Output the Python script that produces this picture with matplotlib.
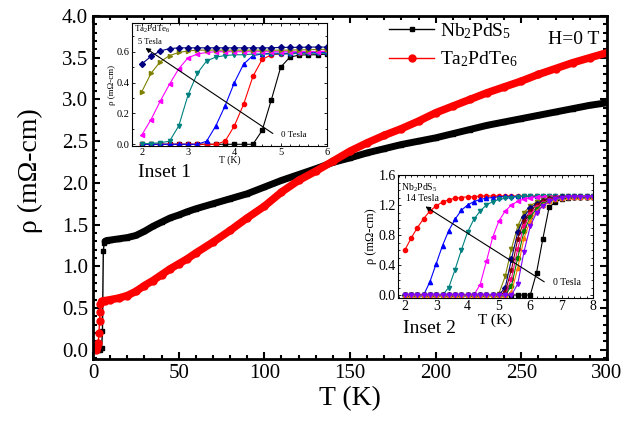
import numpy as np
import matplotlib
matplotlib.use('Agg')
import matplotlib.pyplot as plt
from matplotlib.ticker import MultipleLocator

plt.rcParams['font.family'] = ['Liberation Serif', 'DejaVu Serif']
plt.rcParams['mathtext.fontset'] = 'custom'
plt.rcParams['mathtext.rm'] = 'Liberation Serif'
plt.rcParams['mathtext.it'] = 'Liberation Serif:italic'

# ---- main panel: rho(T) at H=0 ----
T_nb = [2, 3, 4, 5, 5.5, 6, 6.5, 7, 8, 10, 15, 20, 25, 30, 35, 40, 45, 50, 55, 60,
        70, 80, 90, 100, 110, 120, 130, 140, 150, 160, 170, 180, 190, 200,
        210, 220, 230, 240, 250, 260, 270, 280, 290, 300]
rho_nb = [0.0, 0.0, 0.0, 0.02, 0.22, 1.18, 1.28, 1.30, 1.31, 1.315, 1.33, 1.345, 1.37, 1.42,
          1.48, 1.53, 1.58, 1.615, 1.655, 1.69, 1.75, 1.81, 1.87, 1.95, 2.03, 2.10, 2.17,
          2.245, 2.30, 2.36, 2.41, 2.46, 2.50, 2.54, 2.59, 2.64, 2.69, 2.73, 2.77, 2.81,
          2.85, 2.89, 2.93, 2.96]

T_ta = [2, 2.5, 3, 3.5, 3.8, 4, 4.3, 5, 7, 10, 15, 20, 25, 30, 35, 40, 45, 50, 55, 60,
        70, 80, 90, 100, 110, 120, 130, 140, 150, 160, 170, 180, 190, 200,
        210, 220, 230, 240, 250, 260, 270, 280, 290, 300]
rho_ta = [0.0, 0.03, 0.08, 0.2, 0.35, 0.45, 0.55, 0.58, 0.59, 0.60, 0.62, 0.65, 0.70, 0.77,
          0.83, 0.90, 0.97, 1.03, 1.09, 1.16, 1.29, 1.43, 1.58, 1.72, 1.89, 2.03, 2.14,
          2.26, 2.38, 2.48, 2.57, 2.65, 2.74, 2.84, 2.92, 3.00, 3.08, 3.15, 3.22, 3.30,
          3.37, 3.44, 3.50, 3.56]

# ---- inset 1: Ta2PdTe6 in field, 0 ... 5 Tesla ----
t1 = [2.0, 2.2, 2.4, 2.6, 2.8, 3.0, 3.2, 3.4, 3.6, 3.8, 4.0,
      4.2, 4.4, 4.6, 4.8, 5.0, 5.2, 5.4, 5.6, 5.8, 6.0]
ta_0 = [0.0, 0.0, 0.0, 0.0, 0.0, 0.0, 0.0, 0.0, 0.0, 0.0, 0.0, 0.0, 0.0,
        0.09, 0.29, 0.50, 0.565, 0.578, 0.58, 0.58, 0.585]
ta_a = [0.0, 0.0, 0.0, 0.0, 0.0, 0.0, 0.0, 0.0, 0.0,
        0.02, 0.12, 0.26, 0.44, 0.55, 0.58, 0.585, 0.59, 0.59, 0.595, 0.595, 0.60]
ta_b = [0.0, 0.0, 0.0, 0.0, 0.0, 0.0, 0.0,
        0.02, 0.12, 0.25, 0.40, 0.52, 0.575, 0.585, 0.59, 0.59, 0.59, 0.595, 0.595, 0.595, 0.595]
ta_c = [0.005, 0.005, 0.01, 0.02, 0.12, 0.32, 0.46, 0.54, 0.565, 0.575, 0.58,
        0.58, 0.585, 0.585, 0.585, 0.585, 0.585, 0.59, 0.59, 0.59, 0.59]
ta_d = [0.06, 0.16, 0.28, 0.39, 0.49, 0.56, 0.585, 0.595, 0.60,
        0.60, 0.60, 0.60, 0.60, 0.60, 0.60, 0.60, 0.60, 0.60, 0.60, 0.60, 0.605]
ta_e = [0.34, 0.46, 0.535, 0.575, 0.595, 0.605,
        0.61, 0.61, 0.61, 0.61, 0.61, 0.61, 0.61, 0.61, 0.61, 0.61, 0.61, 0.612, 0.612, 0.615, 0.615]
ta_5 = [0.52, 0.57, 0.605, 0.62,
        0.625, 0.625, 0.625, 0.625, 0.625, 0.625, 0.625, 0.625, 0.625, 0.625, 0.625, 0.628,
        0.628, 0.628, 0.63, 0.63, 0.63]

# ---- inset 2: Nb2PdS5 in field, 0 ... 14 Tesla ----
t2 = [2.0, 2.2, 2.4, 2.6, 2.8, 3.0, 3.2, 3.4, 3.6, 3.8, 4.0, 4.2, 4.4, 4.6, 4.8, 5.0,
      5.2, 5.4, 5.6, 5.8, 6.0, 6.2, 6.4, 6.6, 6.8, 7.0, 7.2, 7.4, 7.6, 7.8, 8.0]
nb_0 = [0.0] * 21 + [0.30, 0.75, 1.17, 1.24, 1.28, 1.30, 1.31, 1.31, 1.31, 1.31]
nb_14 = [0.60, 0.76, 0.90, 1.02, 1.12, 1.19, 1.24, 1.27, 1.29, 1.30, 1.31, 1.31] + [1.32] * 19
nb_b = [0.0, 0.0, 0.0, 0.0, 0.18, 0.42, 0.66, 0.86, 1.01, 1.13, 1.20, 1.245, 1.275, 1.29,
        1.30, 1.31] + [1.315] * 15
nb_c = [0.0] * 7 + [0.10, 0.34, 0.60, 0.84, 1.01, 1.12, 1.20, 1.245, 1.275, 1.29, 1.30,
                    1.31] + [1.315] * 12
nb_d = [0.0] * 12 + [0.14, 0.45, 0.77, 0.99, 1.12, 1.20, 1.25, 1.28, 1.295, 1.305] + [1.31] * 9
nb_e = [0.0] * 15 + [0.02, 0.25, 0.62, 0.92, 1.10, 1.19, 1.24, 1.27, 1.29, 1.30] + [1.31] * 6
nb_f = [0.0] * 16 + [0.10, 0.48, 0.84, 1.04, 1.16, 1.22, 1.26, 1.28, 1.30] + [1.31] * 6
nb_g = [0.0] * 16 + [0.04, 0.34, 0.75, 0.99, 1.12, 1.20, 1.25, 1.28, 1.29, 1.30] + [1.31] * 5
nb_h = [0.0] * 17 + [0.22, 0.62, 0.92, 1.08, 1.17, 1.23, 1.27, 1.29, 1.30] + [1.31] * 5
nb_i = [0.0] * 17 + [0.12, 0.50, 0.85, 1.04, 1.15, 1.22, 1.26, 1.28, 1.30] + [1.31] * 5
nb_j = [0.0] * 17 + [0.04, 0.36, 0.76, 0.99, 1.12, 1.20, 1.25, 1.28, 1.29] + [1.31] * 5
nb_k = [0.0] * 18 + [0.15, 0.58, 0.92, 1.10, 1.19, 1.25, 1.28, 1.30] + [1.31] * 5

fig = plt.figure(figsize=(6.26, 4.28), dpi=100)
ax = fig.add_axes([0.1486, 0.1612, 0.821, 0.8014])

ax.plot(T_nb, rho_nb, '-s', color='k', lw=1, ms=3.5, label='Nb$_2$PdS$_5$')
ax.plot(T_nb[7:], rho_nb[7:], '-', color='k', lw=5, solid_capstyle='round')
ax.plot(T_ta, rho_ta, '-o', color='red', lw=1, ms=5, label='Ta$_2$PdTe$_6$')
ax.plot(T_ta[7:], rho_ta[7:], '-', color='red', lw=5.5, solid_capstyle='round')

ax.set_xlim(0, 300)
ax.set_ylim(-0.11, 4.0)
ax.xaxis.set_major_locator(MultipleLocator(50))
ax.xaxis.set_minor_locator(MultipleLocator(10))
ax.yaxis.set_major_locator(MultipleLocator(0.5))
ax.yaxis.set_minor_locator(MultipleLocator(0.1))
ax.yaxis.set_major_formatter(matplotlib.ticker.FormatStrFormatter('%.1f'))
ax.tick_params(which='both', direction='in', top=True, right=True, width=1.5, labelsize=15)
ax.tick_params(which='major', length=5)
ax.tick_params(which='minor', length=3)
for s in ax.spines.values():
    s.set_linewidth(2)
ax.set_xlabel('T (K)', fontsize=20, labelpad=2)
ax.set_ylabel('ρ (mΩ-cm)', fontsize=20)
ax.yaxis.set_label_coords(-0.098, 0.55)

ax.legend(loc='upper left', bbox_to_anchor=(0.55, 1.025), frameon=False, fontsize=14,
          handlelength=2.3, handletextpad=0.3, labelspacing=0.45, borderpad=0.2)
ax.text(0.985, 0.955, 'H=0 T', transform=ax.transAxes, ha='right', va='top', fontsize=14)

fig.text(0.22, 0.586, 'Inset 1', fontsize=14)
fig.text(0.643, 0.222, 'Inset 2', fontsize=14)


def style_inset(a):
    a.tick_params(which='both', direction='in', top=True, right=True, width=0.6, pad=1.5)
    a.tick_params(which='major', length=2.5)
    a.tick_params(which='minor', length=1.3)
    for s in a.spines.values():
        s.set_linewidth(0.8)


# inset 1
ax1 = fig.add_axes([0.2109, 0.6589, 0.3115, 0.2874])
for y, c, m in [(ta_0, 'k', 's'), (ta_a, 'red', 'o'), (ta_b, 'blue', '^'),
                (ta_c, '#008080', 'v'), (ta_d, 'magenta', '<'),
                (ta_e, '#808000', '>'), (ta_5, '#000080', 'D')]:
    ax1.plot(t1, y, '-', color=c, marker=m, ms=3, lw=0.8, mec=c)
ax1.set_xlim(1.79, 6.0)
ax1.set_ylim(-0.011, 0.786)
ax1.xaxis.set_major_locator(MultipleLocator(1))
ax1.xaxis.set_minor_locator(MultipleLocator(0.2))
ax1.yaxis.set_major_locator(MultipleLocator(0.2))
ax1.yaxis.set_minor_locator(MultipleLocator(0.1))
ax1.yaxis.set_major_formatter(matplotlib.ticker.FormatStrFormatter('%.1f'))
style_inset(ax1)
ax1.tick_params(labelsize=7.5)
ax1.set_xlabel('T (K)', fontsize=7, labelpad=-1)
ax1.set_ylabel('ρ (mΩ-cm)', fontsize=6.5, labelpad=1)
ax1.text(1.83, 0.745, 'Ta$_2$PdTe$_6$', fontsize=6.5, va='center')
ax1.annotate('', xy=(2.03, 0.634), xytext=(4.88, 0.06),
             arrowprops=dict(arrowstyle='-|>', color='k', lw=0.8, mutation_scale=7))
ax1.text(1.92, 0.66, '5 Tesla', fontsize=6, va='center')
ax1.text(5.0, 0.06, '0 Tesla', fontsize=6.5, va='center')

# inset 2
ax2 = fig.add_axes([0.6358, 0.3037, 0.3115, 0.2874])
for y, c, m in [(nb_0, 'k', 's'), (nb_14, 'red', 'o'), (nb_b, 'blue', '^'),
                (nb_c, '#008080', 'v'), (nb_d, 'magenta', '<'), (nb_e, '#808000', 'v'),
                (nb_f, '#000080', 'D'), (nb_g, '#800000', 'p'), (nb_h, '#ff0080', 'h'),
                (nb_i, '#008000', 'o'), (nb_j, '#ff8000', '^'), (nb_k, '#8000ff', 'v')]:
    ax2.plot(t2, y, '-', color=c, marker=m, ms=3, lw=0.8, mec=c)
ax2.set_xlim(1.78, 8.0)
ax2.set_ylim(-0.04, 1.6)
ax2.xaxis.set_major_locator(MultipleLocator(1))
ax2.xaxis.set_minor_locator(MultipleLocator(0.2))
ax2.yaxis.set_major_locator(MultipleLocator(0.4))
ax2.yaxis.set_minor_locator(MultipleLocator(0.1))
ax2.yaxis.set_major_formatter(matplotlib.ticker.FormatStrFormatter('%.1f'))
style_inset(ax2)
ax2.tick_params(labelsize=10)
ax2.set_xlabel('T (K)', fontsize=11, labelpad=0)
ax2.set_ylabel('ρ (mΩ-cm)', fontsize=9, labelpad=1)
ax2.text(0.015, 0.95, 'Nb$_2$PdS$_5$', transform=ax2.transAxes, fontsize=7, va='top')
ax2.annotate('', xy=(2.58, 1.2), xytext=(6.52, 0.156),
             arrowprops=dict(arrowstyle='-|>', color='k', lw=0.8, mutation_scale=7))
ax2.text(2.05, 1.25, '14 Tesla', fontsize=7)
ax2.text(6.73, 0.17, '0 Tesla', fontsize=7, va='center')

fig.savefig('out.png', dpi=100)
